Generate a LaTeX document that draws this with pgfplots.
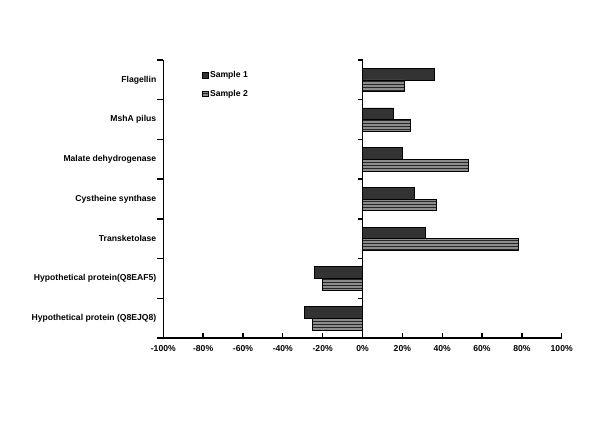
\documentclass[border=0pt]{standalone}
\usepackage{fontspec}
\setmainfont{Liberation Sans}
\usepackage{pgfplots}
\pgfplotsset{compat=1.18}
\usetikzlibrary{patterns}
\begin{document}
\begin{tikzpicture}[x=1pt,y=1pt]
\useasboundingbox (0,0) rectangle (600,424);
\begin{axis}[
 at={(163.3pt,86pt)}, anchor=south west,
 scale only axis, width=398.4pt, height=278pt,
 xmin=-100, xmax=100, ymin=-0.5, ymax=6.5,
 clip=false,
 axis lines*=left,
 axis line style={line width=1.3pt},
 inner axis line style={line width=1.3pt},
 xtick={-100,-80,...,100},
 xticklabel={\pgfmathprintnumber{\tick}\%},
 ytick={0,...,6},
 yticklabels={Hypothetical protein (Q8EJQ8), Hypothetical protein(Q8EAF5), Transketolase, Cystheine synthase, Malate dehydrogenase, MshA pilus, Flagellin},
 tick align=inside,
 major tick length=5pt,
 x tick style={line width=1.3pt, black},
 y tick style={draw=none},
 ticklabel style={font=\bfseries\fontsize{8.6}{10}\selectfont},
 yticklabel style={xshift=1.5pt},
 xticklabel style={yshift=-4pt},
 /pgf/number format/assume math mode=true,
 xbar=0pt, bar width=11.7pt,
 legend style={at={(0.097,0.967)}, anchor=north west, draw=none, fill=none,
   font=\bfseries\fontsize{8.6}{10}\selectfont, row sep=7pt, inner sep=0pt,
   cells={anchor=west}},
 legend image code/.code={\draw[#1, line width=0.4pt] (0pt,-2.6pt) rectangle (5.5pt,2.6pt);},
]
\addplot[draw=black, line width=0.5pt, fill=black!80, bar shift=5.85pt] coordinates {
 (-29,0) (-24,1) (31.5,2) (26,3) (20,4) (15.3,5) (36.2,6)};
\addplot[draw=black, line width=0.5pt, fill=black!45, postaction={pattern=horizontal lines, pattern color=black!85}, bar shift=-5.85pt] coordinates {
 (-25,0) (-20,1) (78,2) (37,3) (53,4) (24,5) (21,6)};
\legend{Sample 1, Sample 2}
\draw[line width=1.3pt] (axis cs:0,-0.5) -- (axis cs:0,6.5);
\pgfplotsinvokeforeach{-0.5,0.5,...,6.5}{
 \draw[line width=1.3pt] (axis cs:-100,#1) -- ++(-6pt,0pt);
 \draw[line width=1.3pt] (axis cs:0,#1) -- ++(-5pt,0pt);
}
\end{axis}
\end{tikzpicture}
\end{document}
